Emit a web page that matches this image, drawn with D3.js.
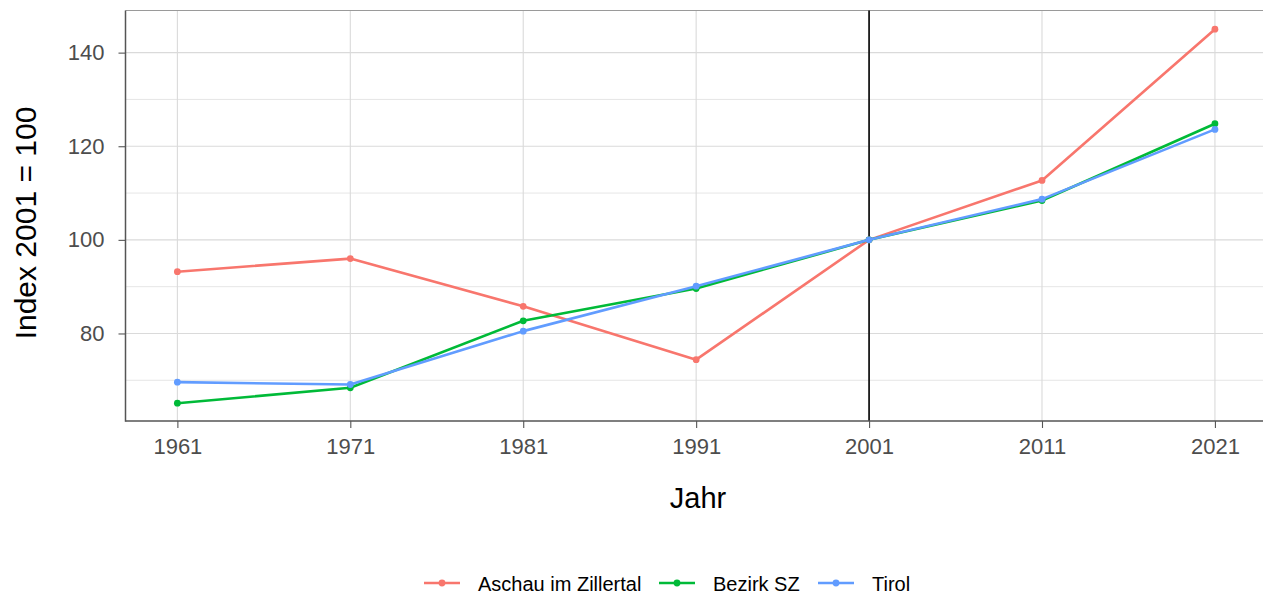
<!DOCTYPE html>
<html>
<head>
<meta charset="utf-8">
<script src="https://cdn.jsdelivr.net/npm/d3@7"></script>
<style>
  body { margin: 0; background: #fff; }
  svg { display: block; font-family: "Liberation Sans", Arial, sans-serif; }
</style>
</head>
<body>
<div id="chart"></div>
<script>
// data
const years = [1961, 1971, 1981, 1991, 2001, 2011, 2021];
const aschau = [93.2, 96.0, 85.8, 74.4, 100, 112.7, 145.0];
const bezirk = [65.1, 68.4, 82.7, 89.6, 100, 108.4, 124.8];
const tirol = [69.6, 69.1, 80.5, 90.1, 100, 108.7, 123.6];
const seriesNames = ["Aschau im Zillertal", "Bezirk SZ", "Tirol"];
const seriesColors = ["#F8766D", "#00BA38", "#619CFF"];
const yTicks = [80, 100, 120, 140];
const yMinor = [70, 90, 110, 130];
const refYear = 2001;

const width = 1263, height = 596;
const margin = { top: 10.5, left: 125.5, bottom: 421 };
const panelRight = 1266.8; // panel is cut off at the right edge

const series = [aschau, bezirk, tirol].map((vals, i) => ({
  name: seriesNames[i],
  color: seriesColors[i],
  values: years.map((y, j) => ({ year: y, value: vals[j] }))
}));

const x = d3.scaleLinear().domain([1958, 2024]).range([margin.left, panelRight]);
const y = d3.scaleLinear().domain([61.3, 149.0]).range([margin.bottom, margin.top]);

const svg = d3.select("#chart").append("svg")
  .attr("width", width).attr("height", height);

// grid
const grid = svg.append("g");
grid.selectAll(".minor").data(yMinor).join("line")
  .attr("x1", margin.left).attr("x2", width)
  .attr("y1", d => y(d)).attr("y2", d => y(d))
  .attr("stroke", "#e6e6e6").attr("stroke-width", 1);
grid.selectAll(".major").data(yTicks).join("line")
  .attr("x1", margin.left).attr("x2", width)
  .attr("y1", d => y(d)).attr("y2", d => y(d))
  .attr("stroke", "#dadada").attr("stroke-width", 1.1);
grid.selectAll(".vmajor").data(years).join("line")
  .attr("x1", d => x(d)).attr("x2", d => x(d))
  .attr("y1", margin.top).attr("y2", margin.bottom)
  .attr("stroke", "#dadada").attr("stroke-width", 1.1);

// top border
svg.append("line")
  .attr("x1", margin.left).attr("x2", width)
  .attr("y1", margin.top).attr("y2", margin.top)
  .attr("stroke", "#9a9a9a").attr("stroke-width", 1.2);

// reference line
svg.append("line")
  .attr("x1", x(refYear)).attr("x2", x(refYear))
  .attr("y1", margin.top).attr("y2", margin.bottom)
  .attr("stroke", "#000").attr("stroke-width", 1.6);

// lines + points
const line = d3.line().x(d => x(d.year)).y(d => y(d.value));
series.forEach(s => {
  svg.append("path").datum(s.values)
    .attr("fill", "none").attr("stroke", s.color)
    .attr("stroke-width", 2.6).attr("stroke-linejoin", "round")
    .attr("d", line);
  svg.append("g").selectAll("circle").data(s.values).join("circle")
    .attr("cx", d => x(d.year)).attr("cy", d => y(d.value))
    .attr("r", 3.4).attr("fill", s.color);
});

// axes
const xAxis = svg.append("g")
  .attr("transform", `translate(0,${margin.bottom})`)
  .call(d3.axisBottom(x).tickValues(years).tickFormat(d3.format("d")).tickSize(7).tickPadding(10.5));
xAxis.select(".domain").remove();
xAxis.append("line").attr("x1", margin.left).attr("x2", width)
  .attr("stroke", "#555").attr("stroke-width", 1.5);
xAxis.selectAll(".tick line").attr("stroke", "#555").attr("stroke-width", 1.1);
xAxis.selectAll(".tick text").attr("fill", "#4d4d4d").style("font-size", "22px");

const yAxis = svg.append("g")
  .attr("transform", `translate(${margin.left},0)`)
  .call(d3.axisLeft(y).tickValues(yTicks).tickSize(7).tickPadding(14));
yAxis.select(".domain").remove();
yAxis.append("line").attr("y1", margin.top).attr("y2", margin.bottom + 0.75)
  .attr("stroke", "#555").attr("stroke-width", 1.5);
yAxis.selectAll(".tick line").attr("stroke", "#555").attr("stroke-width", 1.1);
yAxis.selectAll(".tick text").attr("fill", "#4d4d4d").style("font-size", "22px");

// titles
svg.append("text")
  .attr("x", 698).attr("y", 508)
  .attr("text-anchor", "middle").style("font-size", "29px").attr("fill", "#000")
  .text("Jahr");
svg.append("text")
  .attr("transform", "translate(36,223) rotate(-90)")
  .attr("text-anchor", "middle").style("font-size", "30px").attr("fill", "#000")
  .text("Index 2001 = 100");

// legend
const legendX = [424, 659, 818];
const legend = svg.append("g").attr("transform", "translate(0,583)");
series.forEach((s, i) => {
  const g = legend.append("g").attr("transform", `translate(${legendX[i]},0)`);
  g.append("line").attr("x1", 0).attr("x2", 36)
    .attr("stroke", s.color).attr("stroke-width", 2.6);
  g.append("circle").attr("cx", 18).attr("r", 3.4).attr("fill", s.color);
  g.append("text").attr("x", 54).attr("y", 7.5)
    .style("font-size", "20px").attr("fill", "#000").text(s.name);
});
</script>
</body>
</html>
